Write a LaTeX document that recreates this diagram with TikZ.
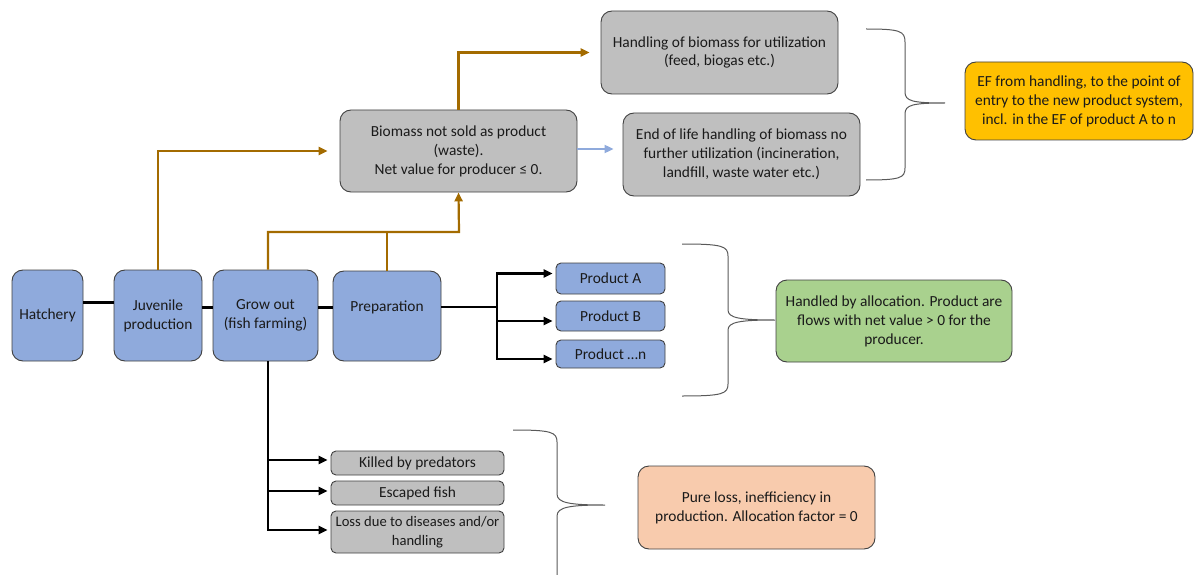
\documentclass[tikz,border=0pt]{standalone}
\usepackage{fontspec}
\setmainfont{Carlito}
\usetikzlibrary{arrows.meta}
\definecolor{procblue}{HTML}{8FAADC}
\definecolor{wastegray}{HTML}{BFBFBF}
\definecolor{efyellow}{HTML}{FFC000}
\definecolor{allocgreen}{HTML}{A9D18E}
\definecolor{losspeach}{HTML}{F8CBAD}
\definecolor{boxline}{HTML}{404040}
\definecolor{wastebrown}{HTML}{A36B00}
\definecolor{bracegray}{HTML}{595959}
\definecolor{textgray}{HTML}{1A1A1A}
\begin{document}
\begin{tikzpicture}[x=1pt,y=-1pt,
  box/.style={draw=boxline, line width=0.9pt, rounded corners=11pt, align=center,
    inner sep=2pt, text=textgray, font=\fontsize{15.4}{18.9}\selectfont},
  proc/.style={box, fill=procblue},
  waste/.style={box, fill=wastegray},
  smallbox/.style={box, rounded corners=5pt},
  tip/.style={-{Triangle[length=9pt,width=8pt]}},
  brownflow/.style={draw=wastebrown, line width=2.2pt},
  blackflow/.style={draw=black, line width=2.2pt},
  brace/.style={draw=bracegray, line width=1pt},
]
\useasboundingbox (0,0) rectangle (1194,575);

% process chain
\node[proc, minimum width=71pt, minimum height=91pt] (hat) at (47.5,315.5) {Hatchery};
\node[proc, minimum width=88pt, minimum height=91pt] (juv) at (158,315.5) {Juvenile\\production};
\node[proc, minimum width=105pt, minimum height=91pt] (grow) at (265.5,315.5) {Grow out\\(fish farming)};
\node[proc, minimum width=108pt, minimum height=90pt] (prep) at (387,316) {};
\node[text=textgray, font=\fontsize{15.4}{18.9}\selectfont] (preptext) at (387,307) {Preparation};

% waste branch
\node[waste, minimum width=237pt, minimum height=82pt] (bio) at (458.5,151)
  {Biomass not sold as product\\(waste).\\Net value for producer ≤ 0.};
\node[waste, minimum width=237pt, minimum height=83pt] (handle) at (719.5,52.5)
  {Handling of biomass for utilization\\(feed, biogas etc.)};
\node[waste, minimum width=237pt, minimum height=83pt] (eol) at (741.5,154.5)
  {End of life handling of biomass no\\further utilization (incineration,\\landfill, waste water etc.)};
\node[box, fill=efyellow, minimum width=228pt, minimum height=78pt] (ef) at (1079,101)
  {EF from handling, to the point of\\entry to the new product system,\\incl. in the EF of product A to n};

% products
\node[smallbox, fill=procblue, minimum width=109pt, minimum height=31pt] (pa) at (610.5,278.5) {\raisebox{-4pt}{Product A}};
\node[smallbox, fill=procblue, minimum width=109pt, minimum height=30pt] (pb) at (610.5,316) {\raisebox{-4pt}{Product B}};
\node[smallbox, fill=procblue, minimum width=109pt, minimum height=28pt] (pn) at (610.5,354) {\raisebox{-4pt}{Product \dots n}};
\node[box, fill=allocgreen, minimum width=236pt, minimum height=82pt] (alloc) at (894,321)
  {Handled by allocation. Product are\\flows with net value > 0 for the\\producer.};

% losses
\node[smallbox, fill=wastegray, minimum width=173pt, minimum height=24pt] (kill) at (417.5,463) {Killed by predators};
\node[smallbox, fill=wastegray, minimum width=173pt, minimum height=24pt] (esc) at (417.5,493) {Escaped fish};
\node[smallbox, fill=wastegray, minimum width=173pt, minimum height=42pt, inner xsep=0pt,
  font=\fontsize{14.6}{18.5}\selectfont] (loss) at (417.5,532) {Loss due to diseases and/or\\handling};
\node[box, fill=losspeach, minimum width=237pt, minimum height=83pt] (pure) at (756.5,507.5)
  {Pure loss, inefficiency in\\production. Allocation factor = 0};

% links along the chain
\draw[line width=2.5pt] ([yshift=13pt]hat.east) -- ([yshift=13pt]hat.east -| juv.west);
\draw[line width=2.5pt] ([yshift=8pt]juv.east) -- ([yshift=8pt]juv.east -| grow.west);
\draw[line width=2.5pt] ([yshift=8pt]grow.east) -- ([yshift=8pt]grow.east -| prep.west);

% waste flows
\coordinate (wj) at (459,232);
\draw[brownflow, tip, shorten >=12pt] (juv.north) |- (bio.west);
\draw[brownflow, tip] ([xshift=2.5pt]grow.north) |- (wj) -- (bio.south);
\draw[brownflow] (prep.north) -- (prep.north |- wj);
\draw[brownflow, tip, shorten >=11pt] (bio.north) |- (handle.west);
\draw[draw=procblue, line width=2pt, tip, shorten >=9pt] ([yshift=2pt]bio.east) -- ([yshift=2pt]bio.east -| eol.west);

% product flows
\coordinate (pj) at (497,307);
\draw[blackflow] ([yshift=9pt]prep.east) -- (pj);
\draw[blackflow, tip, shorten >=3pt] (pj) |- ([yshift=5pt]pa.west);
\draw[blackflow, tip, shorten >=3pt] (pj) |- ([yshift=-5pt]pb.west);
\draw[blackflow, tip, shorten >=3pt] (pj) |- ([yshift=-5pt]pn.west);

% loss flows
\draw[blackflow, tip, shorten >=3pt] ([xshift=2.5pt]grow.south) |- ([yshift=3pt]kill.west);
\draw[blackflow, tip, shorten >=3pt] ([xshift=2.5pt]grow.south) |- ([yshift=2pt]esc.west);
\draw[blackflow, tip, shorten >=3pt] ([xshift=2.5pt]grow.south) |- ([yshift=2pt]loss.west);

% braces
\draw[brace] (866,29) .. controls (900,29) and (905,31) .. (905,42) -- (905,92)
  .. controls (905,101) and (912,103) .. (945,103)
  .. controls (912,103) and (905,105) .. (905,114) -- (905,168)
  .. controls (905,178) and (900,180) .. (866,180);
\draw[brace] (682,244) .. controls (722,244) and (728,246) .. (728,256) -- (728,310)
  .. controls (728,318) and (740,320) .. (775,320)
  .. controls (740,320) and (728,322) .. (728,330) -- (728,384)
  .. controls (728,394) and (722,396) .. (682,396);
\draw[brace] (513,430) .. controls (551,430) and (557,432) .. (557,442) -- (557,494)
  .. controls (557,503) and (570,505) .. (605,505)
  .. controls (570,505) and (557,507) .. (557,516) -- (557,575);
\end{tikzpicture}
\end{document}
